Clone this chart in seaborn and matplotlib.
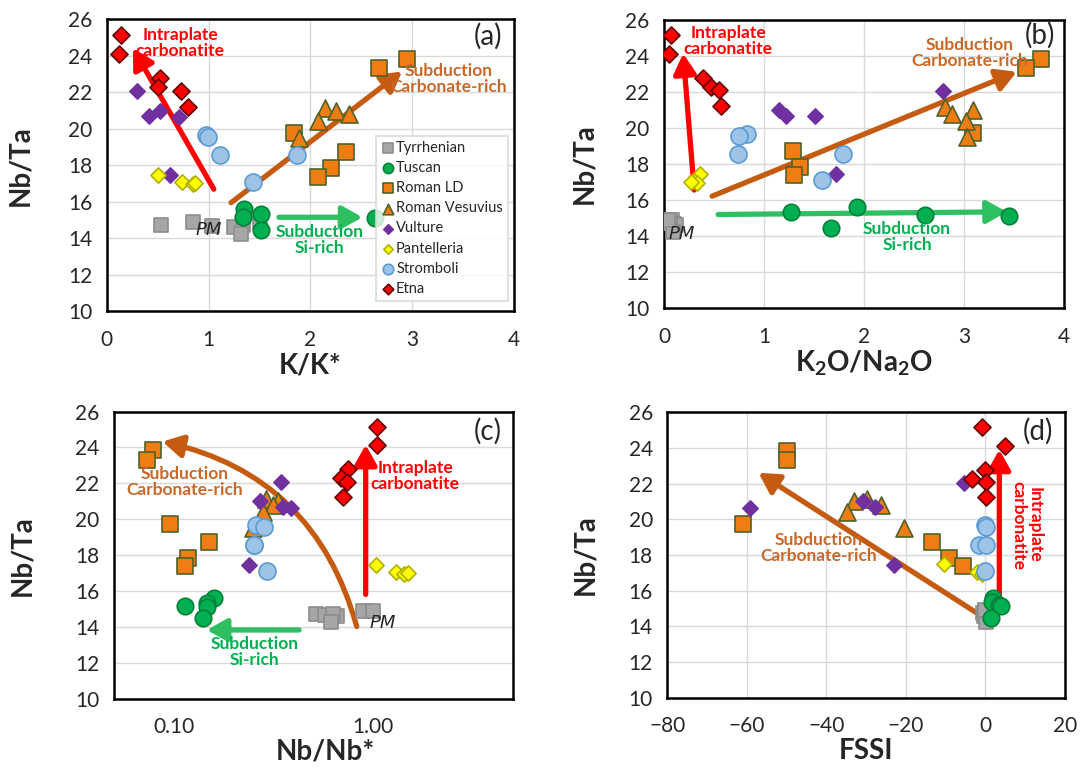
import matplotlib
matplotlib.use("Agg")
import matplotlib.pyplot as plt
import matplotlib.ticker as mticker
import seaborn as sns

sns.set_style("white")
plt.rcParams['font.family'] = ['Lato', 'DejaVu Sans']
plt.rcParams['mathtext.fontset'] = 'custom'
plt.rcParams['mathtext.rm'] = 'Lato'
plt.rcParams['mathtext.bf'] = 'Lato:bold'

groups = ["Tyrrhenian", "Tuscan", "Roman LD", "Roman Vesuvius",
          "Vulture", "Pantelleria", "Stromboli", "Etna"]

# Nb/Ta per sample (shared by all panels)
tyr_nbta = [14.73, 14.88, 14.65, 14.6, 14.72, 14.25, 14.9]
tus_nbta = [15.6, 15.35, 15.18, 15.12, 14.47]
rld_nbta = [23.85, 23.33, 19.75, 18.73, 17.85, 17.37]
ves_nbta = [21.15, 21.0, 20.8, 20.42, 19.5]
vul_nbta = [22.05, 21.0, 20.68, 20.65, 17.46]
pan_nbta = [17.47, 17.07, 16.95, 17.02]
str_nbta = [19.68, 19.56, 18.55, 18.55, 17.11]
etn_nbta = [25.15, 24.13, 22.78, 22.28, 22.1, 21.22]

# (a) K/K*
tyr_kk = [0.53, 0.85, 1.03, 1.25, 1.34, 1.32, 1.50]
tus_kk = [1.35, 1.51, 1.34, 2.63, 1.51]
rld_kk = [2.95, 2.67, 1.84, 2.35, 2.20, 2.07]
ves_kk = [2.14, 2.25, 2.38, 2.07, 1.89]
vul_kk = [0.30, 0.52, 0.41, 0.71, 0.62]
pan_kk = [0.50, 0.74, 0.85, 0.87]
str_kk = [0.97, 0.99, 1.11, 1.87, 1.44]
etn_kk = [0.14, 0.115, 0.52, 0.50, 0.73, 0.80]

# (b) K2O/Na2O
tyr_kna = [0.05, 0.08, 0.10, 0.12, 0.06, 0.09, 0.04]
tus_kna = [1.93, 1.27, 2.61, 3.45, 1.67]
rld_kna = [3.77, 3.62, 3.09, 1.29, 1.36, 1.30]
ves_kna = [2.81, 3.09, 2.88, 3.02, 3.03]
vul_kna = [2.79, 1.15, 1.22, 1.51, 1.72]
pan_kna = [0.36, 0.30, 0.33, 0.27]
str_kna = [0.83, 0.75, 0.74, 1.79, 1.58]
etn_kna = [0.07, 0.053, 0.39, 0.47, 0.55, 0.57]

# (c) Nb/Nb*
tyr_nbn = [0.517, 0.891, 0.575, 0.656, 0.631, 0.612, 1.0]
tus_nbn = [0.158, 0.146, 0.113, 0.146, 0.140]
rld_nbn = [0.078, 0.073, 0.096, 0.149, 0.118, 0.114]
ves_nbn = [0.29, 0.331, 0.315, 0.28, 0.25]
vul_nbn = [0.344, 0.269, 0.351, 0.386, 0.239]
pan_nbn = [1.03, 1.30, 1.42, 1.50]
str_nbn = [0.257, 0.282, 0.251, 0.252, 0.293]
etn_nbn = [1.047, 1.04, 0.747, 0.687, 0.735, 0.708]

# (d) FSSI
tyr_fssi = [-0.5, 0.0, 0.5, -0.3, 0.3, 0.2, 0.0]
tus_fssi = [2.0, 1.6, 3.3, 4.0, 1.3]
rld_fssi = [-50.0, -49.8, -60.9, -13.4, -9.05, -5.7]
ves_fssi = [-29.7, -33.0, -26.3, -34.9, -20.45]
vul_fssi = [-5.5, -30.8, -27.7, -59.2, -23.1]
pan_fssi = [-10.4, -2.2, -0.8, -0.4]
str_fssi = [-0.1, 0.1, -1.5, 0.1, 0.0]
etn_fssi = [-0.75, 4.95, 0.0, -3.4, 0.17, 0.17]

nbta = [tyr_nbta, tus_nbta, rld_nbta, ves_nbta, vul_nbta, pan_nbta, str_nbta, etn_nbta]
x_a = [tyr_kk, tus_kk, rld_kk, ves_kk, vul_kk, pan_kk, str_kk, etn_kk]
x_b = [tyr_kna, tus_kna, rld_kna, ves_kna, vul_kna, pan_kna, str_kna, etn_kna]
x_c = [tyr_nbn, tus_nbn, rld_nbn, ves_nbn, vul_nbn, pan_nbn, str_nbn, etn_nbn]
x_d = [tyr_fssi, tus_fssi, rld_fssi, ves_fssi, vul_fssi, pan_fssi, str_fssi, etn_fssi]

styles = {
    "Tyrrhenian":     dict(marker="s", s=110, color="#a6a6a6", edgecolor="#8c8c8c"),
    "Tuscan":         dict(marker="o", s=140, color="#00b050", edgecolor="#00803a"),
    "Roman LD":       dict(marker="s", s=120, color="#f07c14", edgecolor="#4f6228"),
    "Roman Vesuvius": dict(marker="^", s=150, color="#f07c14", edgecolor="#4f6228"),
    "Vulture":        dict(marker="D", s=60, color="#7030a0", edgecolor="#7030a0"),
    "Pantelleria":    dict(marker="D", s=60, color="#ffff00", edgecolor="#b0b000"),
    "Stromboli":      dict(marker="o", s=150, color="#9dc3e6", edgecolor="#5b9bd5"),
    "Etna":           dict(marker="D", s=75, color="#ff0000", edgecolor="#600000"),
}

RED = "#ff0000"
BROWN = "#c55a11"
BROWN_TXT = "#c8682a"
GREEN = "#2ec060"
GREEN_TXT = "#00b050"

fig = plt.figure(figsize=(10.8, 7.76), dpi=100)
ax_a = fig.add_axes([0.099, 0.599, 0.377, 0.376])
ax_b = fig.add_axes([0.615, 0.603, 0.370, 0.371])
ax_c = fig.add_axes([0.1056, 0.0996, 0.369, 0.370])
ax_d = fig.add_axes([0.618, 0.1009, 0.368, 0.368])


def draw_points(ax, xs):
    for g, x, y in zip(groups, xs, nbta):
        st = styles[g]
        sns.scatterplot(x=x, y=y, ax=ax, marker=st["marker"], s=st["s"],
                        color=st["color"], edgecolor=st["edgecolor"],
                        linewidth=1.2, label=g, legend=False, zorder=4)


def style_axes(ax, xlabel, grid_x=True):
    ax.set_ylim(10, 26)
    ax.yaxis.set_major_locator(mticker.MultipleLocator(2))
    ax.yaxis.set_minor_locator(mticker.MultipleLocator(0.4))
    ax.grid(True, which="major", axis="y", color="#d9d9d9", lw=1)
    if grid_x:
        ax.grid(True, which="major", axis="x", color="#d9d9d9", lw=1)
    ax.set_axisbelow(True)
    for sp in ax.spines.values():
        sp.set_color("black")
        sp.set_linewidth(1.8)
    ax.tick_params(which="major", direction="inout", length=9, width=1.5,
                   labelsize=15, color="black", pad=6)
    ax.tick_params(which="minor", direction="in", length=4.5, width=1.2, color="black")
    ax.tick_params(axis="x", which="major", pad=9)
    ax.set_ylabel("Nb/Ta", fontsize=20, fontweight="bold")
    ax.set_xlabel(xlabel, fontsize=20, fontweight="bold")


def arrow(ax, start, end, color, rad=0.0):
    ax.annotate("", xy=end, xytext=start,
                arrowprops=dict(arrowstyle="-|>,head_length=0.8,head_width=0.45",
                                lw=3.8, color=color, shrinkA=0, shrinkB=0,
                                mutation_scale=15,
                                connectionstyle=f"arc3,rad={rad}"),
                zorder=3)


def note(ax, x, y, txt, color, **kw):
    ax.text(x, y, txt, color=color, fontsize=12.5, fontweight="bold",
            ha="center", va="center", linespacing=1.0, zorder=5, **kw)


def panel_tag(ax, x, y, txt):
    ax.text(x, y, txt, fontsize=20, ha="center", va="center", zorder=5)


def pm(ax, x, y):
    ax.text(x, y, "PM", fontsize=13, style="italic", ha="center", va="center",
            family=["DejaVu Sans"], zorder=5)


# (a)
draw_points(ax_a, x_a)
style_axes(ax_a, "K/K*")
ax_a.set_xlim(0, 4)
ax_a.xaxis.set_major_locator(mticker.MultipleLocator(1))
ax_a.xaxis.set_minor_locator(mticker.MultipleLocator(0.2))
arrow(ax_a, (1.05, 16.69), (0.256, 24.42), RED)
arrow(ax_a, (1.22, 15.95), (2.90, 23.15), BROWN)
arrow(ax_a, (1.69, 15.15), (2.51, 15.15), GREEN)
note(ax_a, 0.72, 24.7, "Intraplate\ncarbonatite", RED)
note(ax_a, 3.36, 22.73, "Subduction\nCarbonate-rich", BROWN_TXT)
note(ax_a, 2.09, 13.9, "Subduction\nSi-rich", GREEN_TXT)
pm(ax_a, 1.0, 14.45)
panel_tag(ax_a, 3.74, 25.1, "(a)")
leg = ax_a.legend(loc="lower right", bbox_to_anchor=(0.985, 0.035), fontsize=10.5,
                  frameon=True, fancybox=False, edgecolor="#d9d9d9",
                  handletextpad=0.05, handlelength=1.0, labelspacing=0.42,
                  borderpad=0.35, markerscale=0.62, borderaxespad=0)
leg.get_frame().set_linewidth(1.5)
leg.set_zorder(6)

# (b)
draw_points(ax_b, x_b)
style_axes(ax_b, r"K$_\mathbf{2}$O/Na$_\mathbf{2}$O")
ax_b.set_xlim(0, 4)
ax_b.xaxis.set_major_locator(mticker.MultipleLocator(1))
ax_b.xaxis.set_minor_locator(mticker.MultipleLocator(0.2))
arrow(ax_b, (0.30, 16.56), (0.19, 24.15), RED)
arrow(ax_b, (0.48, 16.22), (3.53, 23.13), BROWN)
arrow(ax_b, (0.54, 15.2), (3.43, 15.35), GREEN)
note(ax_b, 0.64, 24.83, "Intraplate\ncarbonatite", RED)
note(ax_b, 3.06, 24.19, "Subduction\nCarbonate-rich", BROWN_TXT)
note(ax_b, 2.43, 13.96, "Subduction\nSi-rich", GREEN_TXT)
pm(ax_b, 0.18, 14.1)
panel_tag(ax_b, 3.76, 25.17, "(b)")

# (c)
draw_points(ax_c, x_c)
ax_c.set_xscale("log")
style_axes(ax_c, "Nb/Nb*", grid_x=False)
ax_c.set_xlim(0.05, 5)
ax_c.xaxis.set_major_locator(mticker.FixedLocator([0.1, 1]))
ax_c.xaxis.set_major_formatter(mticker.FormatStrFormatter("%.2f"))
ax_c.xaxis.set_minor_locator(mticker.LogLocator(base=10, subs=range(2, 10)))
ax_c.xaxis.set_minor_formatter(mticker.NullFormatter())
arrow(ax_c, (0.916, 15.81), (0.916, 24.15), RED)
arrow(ax_c, (0.424, 13.83), (0.146, 13.83), GREEN)
arrow(ax_c, (0.826, 14.02), (0.0875, 24.33), BROWN, rad=0.3)
note(ax_c, 0.113, 22.06, "Subduction\nCarbonate-rich", BROWN_TXT)
note(ax_c, 1.62, 22.43, "Intraplate\ncarbonatite", RED)
note(ax_c, 0.254, 12.6, "Subduction\nSi-rich", GREEN_TXT)
pm(ax_c, 1.114, 14.24)
panel_tag(ax_c, 3.76, 24.9, "(c)")

# (d)
draw_points(ax_d, x_d)
style_axes(ax_d, "FSSI")
ax_d.set_xlim(-80, 20)
ax_d.xaxis.set_major_locator(mticker.MultipleLocator(20))
ax_d.xaxis.set_minor_locator(mticker.MultipleLocator(4))
arrow(ax_d, (-1.76, 14.69), (-57.1, 22.6), BROWN)
arrow(ax_d, (3.5, 15.47), (3.5, 23.9), RED)
note(ax_d, -41.9, 18.37, "Subduction\nCarbonate-rich", BROWN_TXT)
note(ax_d, 10.4, 19.67, "Intraplate\ncarbonatite", RED, rotation=-90)
panel_tag(ax_d, 13.1, 24.9, "(d)")

ax_a.yaxis.set_label_coords(-0.182, 0.5)
ax_b.yaxis.set_label_coords(-0.168, 0.5)
ax_c.yaxis.set_label_coords(-0.198, 0.5)
ax_d.yaxis.set_label_coords(-0.173, 0.5)
for ax in (ax_a, ax_b, ax_d):
    ax.xaxis.set_label_coords(0.5, -0.14)
ax_c.xaxis.set_label_coords(0.53, -0.14)

fig.savefig("out.png", dpi=100)
